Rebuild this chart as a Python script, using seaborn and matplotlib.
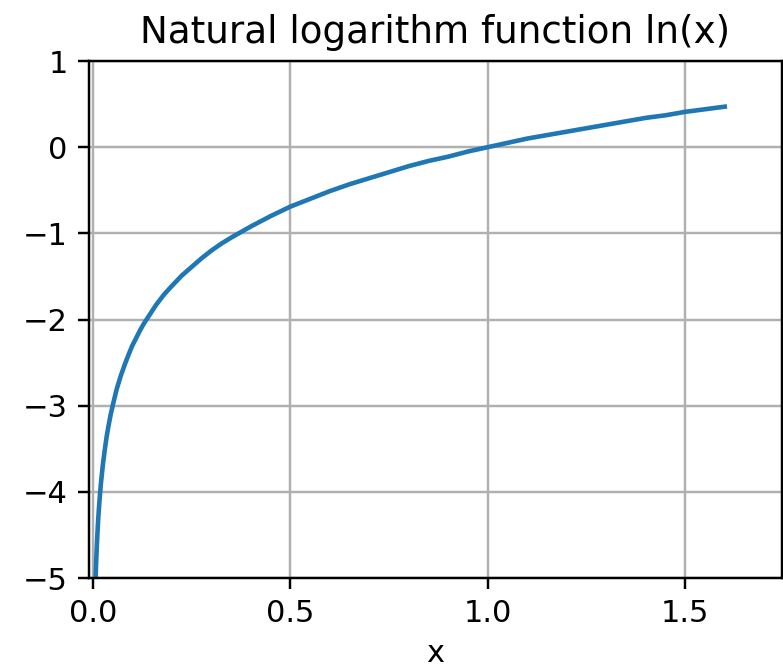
import matplotlib
matplotlib.use("Agg")
import matplotlib.pyplot as plt
import seaborn as sns
import pandas as pd

# Values
x_vals = [0.0067, 0.008, 0.01, 0.0125, 0.015, 0.0175, 0.02, 0.025, 0.03, 0.035,
          0.04, 0.045, 0.05, 0.06, 0.07, 0.08, 0.09, 0.1, 0.11, 0.12, 0.13,
          0.14, 0.15, 0.16, 0.18, 0.2, 0.225, 0.25, 0.275, 0.3, 0.325, 0.35,
          0.4, 0.45, 0.5, 0.55, 0.6, 0.65, 0.7, 0.75, 0.8, 0.85, 0.9, 0.95,
          1.0, 1.05, 1.1, 1.15, 1.2, 1.25, 1.3, 1.35, 1.4, 1.45, 1.5, 1.55, 1.6]
y_vals = [-5.0, -4.83, -4.61, -4.38, -4.20, -4.05, -3.91, -3.69, -3.51, -3.35,
          -3.22, -3.10, -3.00, -2.81, -2.66, -2.53, -2.41, -2.30, -2.21, -2.12,
          -2.04, -1.97, -1.90, -1.83, -1.71, -1.61, -1.49, -1.39, -1.29, -1.20,
          -1.12, -1.05, -0.92, -0.80, -0.69, -0.60, -0.51, -0.43, -0.36, -0.29,
          -0.22, -0.16, -0.11, -0.05, 0.0, 0.05, 0.10, 0.14, 0.18, 0.22, 0.26,
          0.30, 0.34, 0.37, 0.41, 0.44, 0.47]
x_ticks = [0.0, 0.5, 1.0, 1.5]
y_ticks = [-5, -4, -3, -2, -1, 0, 1]
title = "Natural logarithm function ln(x)"
x_label = "x"

df = pd.DataFrame({"x": x_vals, "y": y_vals})

DPI = 220
fig = plt.figure(figsize=(783 / DPI, 671 / DPI), dpi=DPI)
ax = fig.add_axes([89 / 783, 1 - 578 / 671, (782 - 89) / 783, (578 - 61) / 671])

sns.lineplot(data=df, x="x", y="y", ax=ax, color="#1f77b4", linewidth=1.5,
             estimator=None, sort=False)

ax.set_xlim(-0.01, 1.745)
ax.set_ylim(-5, 1)
ax.set_xticks(x_ticks)
ax.set_yticks(y_ticks)
ax.grid(True)
ax.set_title(title, fontsize=12.2)
ax.set_xlabel(x_label, labelpad=3.5)
ax.set_ylabel("")

fig.savefig("out.png", dpi=DPI)
